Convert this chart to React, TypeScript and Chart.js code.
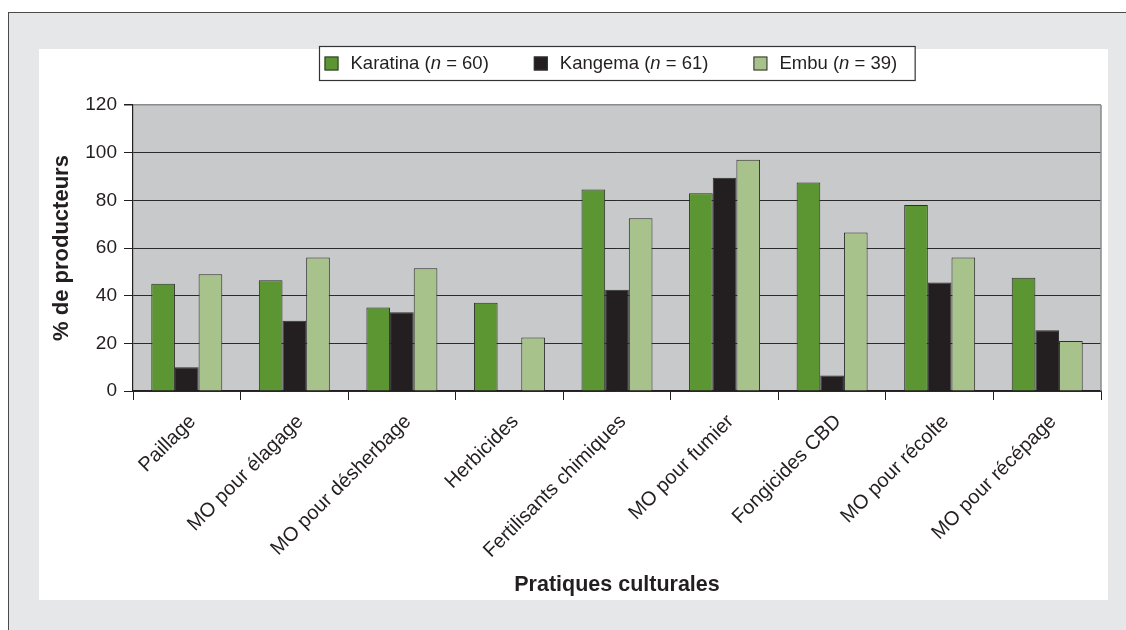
import React, { useEffect, useRef } from "react";
import { Chart, registerables } from "chart.js";

Chart.register(...registerables);

const categories = [
  "Paillage",
  "MO pour élagage",
  "MO pour désherbage",
  "Herbicides",
  "Fertilisants chimiques",
  "MO pour fumier",
  "Fongicides CBD",
  "MO pour récolte",
  "MO pour récépage",
];
const karatina = [45, 46.5, 35, 37, 84.5, 83, 87.5, 78, 47.5];
const kangema = [10, 29.5, 33, 0, 42.5, 89.5, 6.5, 45.5, 25.5];
const embu = [49, 56, 51.5, 22.5, 72.5, 97, 66.5, 56, 21];
const seriesNames = ["Karatina", "Kangema", "Embu"];
const seriesN = [60, 61, 39];
const yMin = 0;
const yMax = 120;
const yStep = 20;

const GREEN = "#5c9632";
const BLACK = "#231f20";
const LIGHT = "#a7c28b";
const TEXT = "#231f20";
const FONT = '"Liberation Sans", Arial, Helvetica, sans-serif';

const bgPlugin = {
  id: "plotBg",
  beforeDraw(chart: any) {
    const { ctx, chartArea } = chart;
    ctx.save();
    ctx.fillStyle = "#c8c9cb";
    ctx.fillRect(chartArea.left, chartArea.top, chartArea.right - chartArea.left, chartArea.bottom - chartArea.top);
    ctx.restore();
  },
  beforeDatasetsDraw(chart: any) {
    const { ctx, chartArea } = chart;
    ctx.save();
    ctx.strokeStyle = "#8a8a8a";
    ctx.lineWidth = 1.5;
    ctx.beginPath();
    ctx.moveTo(chartArea.right, chartArea.top);
    ctx.lineTo(chartArea.right, chartArea.bottom);
    ctx.stroke();
    ctx.restore();
  },
};

const legendPlugin = {
  id: "boxLegend",
  afterDraw(chart: any) {
    const ctx = chart.ctx;
    const colors = [GREEN, BLACK, LIGHT];
    const normal = `18.5px ${FONT}`;
    const italic = `italic 18.5px ${FONT}`;
    const items = seriesNames.map((name, i) => {
      const parts: [string, string][] = [
        [name + " (", normal],
        ["n", italic],
        [" = " + seriesN[i] + ")", normal],
      ];
      let w = 0;
      parts.forEach(([t, f]) => {
        ctx.font = f;
        w += ctx.measureText(t).width;
      });
      return { parts, w };
    });
    const padL = 5, sq = 14, gapSq = 12, gapItem = 45, padR = 18;
    const total =
      padL +
      items.reduce((s, it) => s + sq + gapSq + it.w, 0) +
      gapItem * (items.length - 1) +
      padR;
    const cx = (chart.chartArea.left + chart.chartArea.right) / 2;
    const x0 = Math.round(cx - total / 2) + 0.5;
    const top = 46.5;
    const h = 34;
    ctx.save();
    ctx.fillStyle = "#ffffff";
    ctx.fillRect(x0, top, total, h);
    ctx.strokeStyle = "#333333";
    ctx.lineWidth = 1.2;
    ctx.strokeRect(x0, top, total, h);
    let x = x0 + padL;
    const cy = top + h / 2;
    items.forEach((it, i) => {
      ctx.fillStyle = colors[i];
      ctx.fillRect(x, cy - 7, sq, sq);
      ctx.strokeStyle = "#333";
      ctx.lineWidth = 1;
      ctx.strokeRect(x + 0.5, cy - 6.5, sq - 1, sq - 1);
      x += sq + gapSq;
      ctx.fillStyle = TEXT;
      ctx.textBaseline = "middle";
      ctx.textAlign = "left";
      it.parts.forEach(([t, f]) => {
        ctx.font = f;
        ctx.fillText(t, x, cy);
        x += ctx.measureText(t).width;
      });
      x += gapItem;
    });
    ctx.restore();
  },
};

export default function App() {
  const ref = useRef<HTMLCanvasElement | null>(null);

  useEffect(() => {
    if (!ref.current) return;
    const mk = (label: string, data: number[], color: string) => ({
      label,
      data,
      backgroundColor: color,
      borderColor: "#2e2e2e",
      borderWidth: 1,
      borderSkipped: "start" as const,
      categoryPercentage: 0.66,
      barPercentage: 1.0,
    });
    const chart = new Chart(ref.current, {
      type: "bar",
      data: {
        labels: categories,
        datasets: [
          mk(seriesNames[0], karatina, GREEN),
          mk(seriesNames[1], kangema, BLACK),
          mk(seriesNames[2], embu, LIGHT),
        ],
      },
      options: {
        responsive: false,
        animation: false,
        devicePixelRatio: 1,
        layout: { padding: { left: 40, right: 25, top: 105, bottom: 30 } },
        plugins: {
          legend: { display: false },
          tooltip: { enabled: false },
        },
        scales: {
          x: {
            grid: {
              display: true,
              drawOnChartArea: false,
              drawTicks: true,
              tickLength: 9,
              color: "#231f20",
              offset: true,
            },
            border: { display: true, color: "#231f20", width: 1.2 },
            ticks: {
              minRotation: 45,
              maxRotation: 45,
              padding: 10,
              labelOffset: 6,
              color: TEXT,
              font: { family: FONT, size: 20 },
              autoSkip: false,
            },
            title: {
              display: true,
              text: "Pratiques culturales",
              color: TEXT,
              font: { family: FONT, size: 21.5, weight: "bold" },
              padding: { top: 0, bottom: 2 },
            },
            afterFit(scale: any) {
              scale.height = 209;
            },
          },
          y: {
            min: yMin,
            max: yMax,
            ticks: {
              stepSize: yStep,
              padding: 7,
              color: TEXT,
              font: { family: FONT, size: 19 },
            },
            grid: {
              color: (c: any) => (c.tick && c.tick.value === yMax ? "#8a8a8a" : "#2b2b2b"),
              lineWidth: (c: any) => (c.tick && c.tick.value === yMax ? 1.5 : 1),
              tickColor: "#231f20",
              tickLength: 9,
              drawTicks: true,
            },
            border: { display: true, color: "#231f20", width: 1.2 },
            title: {
              display: true,
              text: "% de producteurs",
              color: TEXT,
              font: { family: FONT, size: 22, weight: "bold" },
              padding: { top: 9, bottom: 0 },
            },
            afterFit(scale: any) {
              scale.width = 93;
            },
          },
        },
      },
      plugins: [bgPlugin, legendPlugin],
    });
    return () => chart.destroy();
  }, []);

  return (
    <div style={{ position: "absolute", left: 0, top: 0, width: 1126, height: 630, overflow: "hidden" }}>
      <div
        style={{
          position: "absolute",
          left: 8,
          top: 12,
          right: 0,
          bottom: 0,
          background: "#e6e7e8",
          borderTop: "1.5px solid #4a4a4a",
          borderLeft: "1.5px solid #4a4a4a",
        }}
      />
      <div style={{ position: "absolute", left: 39, top: 49, width: 1069, height: 551, background: "#ffffff" }} />
      <canvas
        ref={ref}
        width={1126}
        height={630}
        style={{ position: "absolute", left: 0, top: 0, width: 1126, height: 630 }}
      />
    </div>
  );
}
